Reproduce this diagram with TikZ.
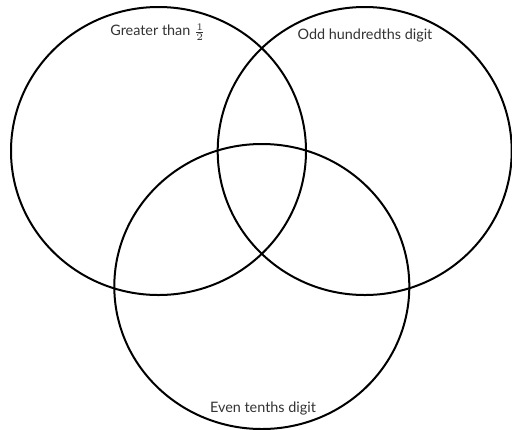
\documentclass[tikz,border=0pt]{standalone}
\usepackage{fontspec}
\setmainfont{Lato}
\begin{document}
\begin{tikzpicture}[x=0.5pt,y=-0.5pt,
  ring/.style={line width=1pt},
  setlabel/.style={font=\fontsize{7.2}{8}\selectfont, text=black!80, inner sep=0pt}]
\useasboundingbox (0,0) rectangle (512,429);
\draw[ring] (158.5,151) ellipse [x radius=147.5, y radius=144];
\draw[ring] (364.7,151) ellipse [x radius=147, y radius=144];
\draw[ring] (261.8,286.5) ellipse [x radius=147.5, y radius=142.5];
\node[setlabel] (greater) at (158,32) {Greater than $\frac{1}{2}$};
\node[setlabel] (odd) at (365,36) {Odd hundredths digit};
\node[setlabel] (even) at (263,408) {Even tenths digit};
\end{tikzpicture}
\end{document}
